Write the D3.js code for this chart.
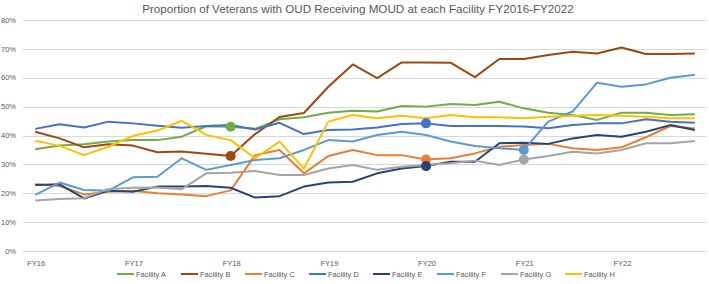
<!DOCTYPE html>
<html>
<head>
<meta charset="utf-8">
<script src="https://cdn.jsdelivr.net/npm/d3@7"></script>
<style>
  body { margin: 0; background: #fff; }
  text { font-family: "Liberation Sans", Arial, sans-serif; fill: #595959; }
</style>
</head>
<body>
<svg id="chart" width="709" height="284"></svg>
<script>
// categories
var fiscalYears = ['FY16', 'FY17', 'FY18', 'FY19', 'FY20', 'FY21', 'FY22'];
var quarters = [];
fiscalYears.forEach(fy => ['Q1', 'Q2', 'Q3', 'Q4'].forEach(q => quarters.push(fy + ' ' + q)));

var facilities = ['Facility A', 'Facility B', 'Facility C', 'Facility D',
                  'Facility E', 'Facility F', 'Facility G', 'Facility H'];
var colors = ['#70AD47', '#9E480E', '#ED7D31', '#4472C4',
              '#264478', '#5B9BD5', '#A5A5A5', '#FFC000'];

// % of veterans with OUD receiving MOUD, one value per quarter
var facilityA = [35.2, 36.5, 37.0, 37.9, 38.4, 38.4, 39.6, 43.2, 43.0, 42.3, 45.6, 46.3, 47.9, 48.6,
                 48.3, 50.2, 50.0, 50.9, 50.6, 51.7, 49.4, 47.9, 47.1, 45.4, 47.9, 47.9, 47.1, 47.4];
var facilityB = [41.3, 39.0, 35.9, 37.0, 36.5, 34.2, 34.5, 33.7, 32.9, 40.5, 46.4, 47.8, 56.9, 64.6,
                 59.9, 65.3, 65.3, 65.2, 60.2, 66.5, 66.5, 67.9, 69.0, 68.4, 70.5, 68.2, 68.2, 68.4];
var facilityC = [23.1, 22.5, 19.6, 20.5, 20.9, 20.0, 19.6, 19.0, 21.0, 33.2, 35.0, 26.9, 32.9, 35.0,
                 33.2, 33.2, 31.7, 32.1, 33.8, 36.1, 36.7, 37.1, 35.6, 35.0, 35.9, 39.4, 43.3, 42.4];
var facilityD = [42.3, 43.9, 42.8, 44.8, 44.2, 43.4, 42.7, 43.3, 43.6, 42.1, 44.4, 40.5, 41.9, 42.1,
                 42.8, 44.0, 44.2, 43.3, 43.3, 43.3, 43.1, 42.5, 43.6, 44.2, 44.2, 45.6, 44.8, 44.4];
var facilityE = [22.9, 23.1, 18.2, 20.9, 20.5, 22.3, 22.3, 22.5, 21.9, 18.5, 19.0, 22.3, 23.7, 24.0,
                 26.9, 28.6, 29.4, 30.9, 30.9, 37.3, 37.5, 37.1, 39.0, 40.2, 39.6, 41.3, 43.6, 41.9];
var facilityF = [19.4, 23.7, 21.1, 20.9, 25.5, 25.7, 32.1, 28.1, 29.8, 31.5, 32.1, 35.0, 38.4, 37.9,
                 40.2, 41.3, 40.2, 37.9, 36.4, 35.6, 35.0, 44.8, 48.3, 58.3, 56.9, 57.7, 60.0, 61.0];
var facilityG = [17.5, 18.0, 18.3, 21.5, 21.9, 22.0, 21.4, 26.9, 27.1, 27.7, 26.3, 26.3, 28.6, 29.8,
                 28.1, 29.2, 29.8, 30.4, 31.3, 29.8, 31.7, 32.9, 34.4, 33.8, 35.0, 37.3, 37.3, 38.1];
var facilityH = [38.2, 36.4, 33.2, 36.1, 39.9, 41.7, 45.1, 40.2, 38.4, 32.1, 37.9, 28.6, 44.8, 47.1,
                 46.0, 46.8, 46.0, 47.1, 46.3, 46.3, 46.0, 46.5, 46.8, 47.1, 46.8, 46.5, 46.0, 46.0];

// quarter where each facility gets the big marker (none for H)
var markerQuarter = ['FY18 Q1', 'FY18 Q1', 'FY20 Q1', 'FY20 Q1', 'FY20 Q1', 'FY21 Q1', 'FY21 Q1', null];

var yTicks = [0, 10, 20, 30, 40, 50, 60, 70, 80];

var series = [facilityA, facilityB, facilityC, facilityD, facilityE, facilityF, facilityG, facilityH]
    .map((vals, i) => ({ name: facilities[i], color: colors[i], values: vals, marker: markerQuarter[i] }));

var svg = d3.select('#chart');
var plotLeft = 23, plotRight = 707, plotTop = 20, plotBottom = 251;

var x = d3.scaleBand().domain(quarters).range([plotLeft, plotRight]);
var xc = q => x(q) + x.bandwidth() / 2;
var y = d3.scaleLinear().domain([0, 80]).range([plotBottom, plotTop]);

// title
var title = svg.append('text')
    .attr('x', 358)
    .attr('y', 12.5)
    .attr('text-anchor', 'middle')
    .style('font-size', '13px')
    .text('Proportion of Veterans with OUD Receiving MOUD at each Facility FY2016-FY2022');
var tw = title.node().getComputedTextLength();
if (tw > 432) title.style('font-size', (13 * 432 / tw) + 'px');

// gridlines + y labels
svg.selectAll('.grid')
    .data(yTicks)
    .join('line')
    .attr('class', 'grid')
    .attr('x1', plotLeft).attr('x2', plotRight)
    .attr('y1', d => Math.round(y(d)) + 0.5).attr('y2', d => Math.round(y(d)) + 0.5)
    .attr('stroke', '#d9d9d9')
    .attr('stroke-width', 1);

svg.selectAll('.ylab')
    .data(yTicks)
    .join('text')
    .attr('class', 'ylab')
    .attr('x', 16)
    .attr('y', d => y(d))
    .attr('dy', '0.35em')
    .attr('text-anchor', 'end')
    .style('font-size', '7.5px')
    .text(d => d + '%');

// x labels on the first quarter of each fiscal year
svg.selectAll('.xlab')
    .data(fiscalYears)
    .join('text')
    .attr('class', 'xlab')
    .attr('x', d => xc(d + ' Q1') + 1)
    .attr('y', 263)
    .attr('dy', '0.35em')
    .attr('text-anchor', 'middle')
    .style('font-size', '7.5px')
    .text(d => d);

// lines
var line = d3.line()
    .x((d, i) => xc(quarters[i]))
    .y(d => y(d));

svg.selectAll('.series')
    .data(series)
    .join('path')
    .attr('class', 'series')
    .attr('d', d => line(d.values))
    .attr('fill', 'none')
    .attr('stroke', d => d.color)
    .attr('stroke-width', 2)
    .attr('stroke-linejoin', 'round');

svg.selectAll('.marker')
    .data(series.filter(d => d.marker))
    .join('circle')
    .attr('class', 'marker')
    .attr('cx', d => xc(d.marker))
    .attr('cy', d => y(d.values[quarters.indexOf(d.marker)]))
    .attr('r', 5)
    .attr('fill', d => d.color);

// legend
var legendStep = 64;
var legendStart = 117;
var legend = svg.selectAll('.legend')
    .data(series)
    .join('g')
    .attr('class', 'legend')
    .attr('transform', (d, i) => `translate(${legendStart + i * legendStep},274)`);

legend.append('line')
    .attr('x1', 0).attr('x2', 17)
    .attr('stroke', d => d.color)
    .attr('stroke-width', 2);

legend.append('text')
    .attr('x', 19)
    .attr('dy', '0.35em')
    .style('font-size', '7.5px')
    .text(d => d.name);
</script>
</body>
</html>
